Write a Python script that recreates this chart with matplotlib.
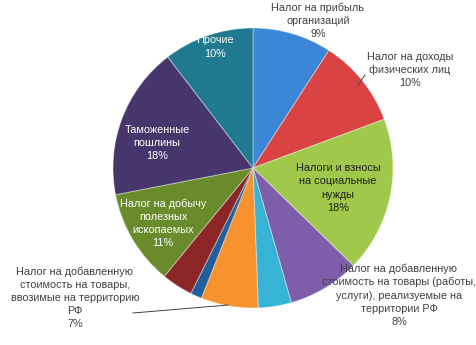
import matplotlib
matplotlib.use("Agg")
import matplotlib.pyplot as plt

# slices, clockwise from 12 o'clock
names = [
    "Налог на прибыль\nорганизаций",
    "Налог на доходы\nфизических лиц",
    "Налоги и взносы\nна социальные\nнужды",
    "Налог на добавленную\nстоимость на товары (работы,\nуслуги), реализуемые на\nтерритории РФ",
    "",
    "Налог на добавленную\nстоимость на товары,\nввозимые на территорию\nРФ",
    "",
    "",
    "Налог на добычу\nполезных\nископаемых",
    "Таможенные\nпошлины",
    "Прочие",
]
shares = [9.1, 10.2, 17.9, 8.3, 3.8, 6.6, 1.3, 3.6, 11.0, 17.6, 10.4]
colors = ["#3C86D6", "#D94343", "#A0C84A", "#7E5DAB", "#37B3D5", "#F7922F",
          "#215E9E", "#8C2626", "#6A8B2C", "#47366B", "#1F7A8F"]

# label placement in pixels (x, y from top), text colour
label_pos = {
    0: (318, 21, "#404040"),
    1: (410, 70, "#404040"),
    2: (338, 188, "#202020"),
    3: (399, 295, "#404040"),
    5: (75, 298, "#404040"),
    8: (163, 223, "white"),
    9: (157, 143, "white"),
    10: (215, 47, "white"),
}
leaders = {
    1: [(358, 85), (365, 75)],
    5: [(133, 313), (228, 305)],
}

W, H = 477, 345
fig = plt.figure(figsize=(W / 100, H / 100), dpi=100)
ax = fig.add_axes([0, 0, 1, 1])

cx, cy, r = 253, H - 168, 140
total = sum(shares)
wedges, _ = ax.pie(
    shares,
    colors=colors,
    startangle=90,
    counterclock=False,
    center=(cx, cy),
    radius=r,
    wedgeprops=dict(edgecolor=(1, 1, 1, 0.35), linewidth=0.8),
    frame=True,
)

for i, (x, y, c) in label_pos.items():
    pct = f"{round(shares[i] / total * 100)}%"
    ax.text(x, H - y, names[i] + "\n" + pct, ha="center", va="center",
            fontsize=7.8, color=c, family="Liberation Sans", linespacing=1.38)

for i, pts in leaders.items():
    xs = [p[0] for p in pts]
    ys = [H - p[1] for p in pts]
    ax.plot(xs, ys, color="#404040", linewidth=0.7)

ax.set_xlim(0, W)
ax.set_ylim(0, H)
ax.set_aspect("equal")
ax.axis("off")
fig.savefig("out.png", dpi=100)
